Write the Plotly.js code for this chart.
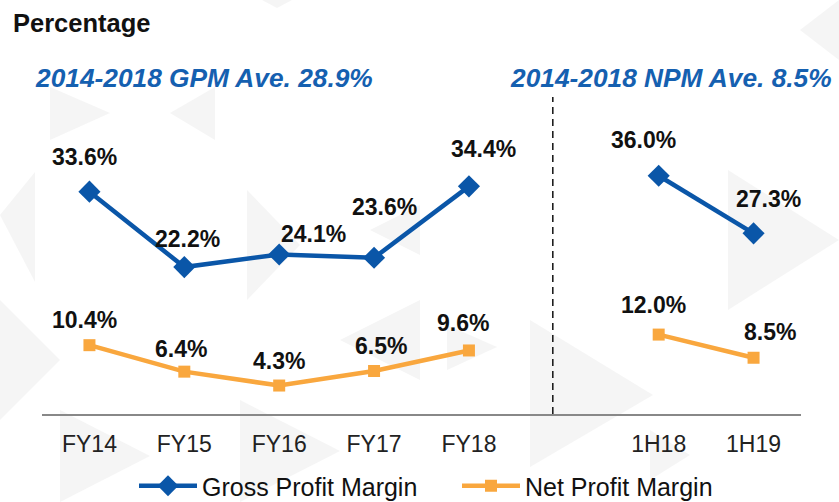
<!DOCTYPE html>
<html><head><meta charset="utf-8">
<script src="https://cdn.plot.ly/plotly-3.0.1.min.js"></script>
<style>html,body{margin:0;padding:0;background:#fff}#chart{width:839px;height:502px}</style>
</head><body><div id="chart"></div>
<script>
const categories = ['FY14','FY15','FY16','FY17','FY18','','1H18','1H19'];
const gpm = [33.6, 22.2, 24.1, 23.6, 34.4, null, 36.0, 27.3];
const npm = [10.4, 6.4, 4.3, 6.5, 9.6, null, 12.0, 8.5];
const gpmLabels = ['33.6%','22.2%','24.1%','23.6%','34.4%','','36.0%','27.3%'];
const npmLabels = ['10.4%','6.4%','4.3%','6.5%','9.6%','','12.0%','8.5%'];
const idx = categories.map((c,i)=>i);

const blue = '#0A56A8', orange = '#F9A73E';
const FONT = 'Liberation Sans, Arial, sans-serif';
const traces = [
  {x: idx, y: gpm, name: 'Gross Profit Margin', mode: 'lines+markers', connectgaps: false, legend: 'legend',
   line: {color: blue, width: 4.5}, marker: {symbol: 'diamond', size: 17, color: blue}},
  {x: idx, y: npm, name: 'Net Profit Margin', mode: 'lines+markers', connectgaps: false, legend: 'legend2',
   line: {color: orange, width: 4.5}, marker: {symbol: 'square', size: 12, color: orange}}
];

// label offsets (px) relative to the data point: style only
const gOff = [[-5,35],[3,28],[34,21],[10,51],[15,37],null,[-15,36],[15,34]];
const nOff = [[-5,25],[-3,23],[0,25],[7,25],[-6,27],null,[-5,30],[16,26]];
const ann = [];
const lblFont = {family: FONT, size: 23, color: '#111', weight: 'bold'};
idx.forEach(i => {
  if (gpm[i] !== null) ann.push({x: i, y: gpm[i], text: gpmLabels[i], showarrow: false, xshift: gOff[i][0], yshift: gOff[i][1], font: lblFont});
  if (npm[i] !== null) ann.push({x: i, y: npm[i], text: npmLabels[i], showarrow: false, xshift: nOff[i][0], yshift: nOff[i][1], font: lblFont});
});

// pixel -> paper helpers (plot area: x 42..801, y 97..414)
const PX = px => (px - 42) / 759, PY = py => (414 - py) / 317;
ann.push({xref: 'paper', yref: 'paper', x: PX(11), y: PY(23), xanchor: 'left', yanchor: 'middle', showarrow: false,
  text: 'Percentage', font: {family: FONT, size: 25.5, color: '#111', weight: 'bold'}});
ann.push({xref: 'paper', yref: 'paper', x: PX(204), y: PY(78), xanchor: 'center', yanchor: 'middle', showarrow: false,
  text: '<i>2014-2018 GPM Ave. 28.9%</i>', font: {family: FONT, size: 26.3, color: '#1560B0', weight: 'bold'}});
ann.push({xref: 'paper', yref: 'paper', x: PX(671), y: PY(78), xanchor: 'center', yanchor: 'middle', showarrow: false,
  text: '<i>2014-2018 NPM Ave. 8.5%</i>', font: {family: FONT, size: 26.3, color: '#1560B0', weight: 'bold'}});

const tri = pts => 'M' + pts.map(p => PX(p[0]) + ',' + PY(p[1])).join(' L') + ' Z';
const bgTris = [
  [[50,87],[50,140],[110,113]],
  [[215,87],[215,140],[170,113]],
  [[262,0],[292,0],[277,8]],
  [[35,172],[35,282],[0,215]],
  [[247,190],[247,300],[300,245]],
  [[420,205],[420,255],[370,230]],
  [[728,170],[728,310],[839,240]],
  [[530,320],[530,467],[653,395]],
  [[447,325],[447,370],[497,347]],
  [[0,300],[0,420],[60,360]],
  [[60,410],[60,502],[150,456]],
  [[240,400],[240,502],[340,451]],
  [[420,300],[420,380],[340,340]],
  [[650,430],[650,480],[690,455]],
  [[839,0],[839,60],[800,30]]
];
const bg = bgTris.map(p => ({type: 'path', xref: 'paper', yref: 'paper', path: tri(p), fillcolor: '#ececec', opacity: 0.55, line: {width: 0}, layer: 'below'}));

const legFont = {family: FONT, size: 25, color: '#111'};
const layout = {
  width: 839, height: 502,
  margin: {l: 42, r: 38, t: 97, b: 88, autoexpand: false},
  paper_bgcolor: '#fff', plot_bgcolor: 'rgba(0,0,0,0)',
  showlegend: true,
  legend: {orientation: 'h', x: PX(134), xanchor: 'left', y: PY(486), yanchor: 'middle', itemwidth: 58,
    font: legFont, bgcolor: 'rgba(0,0,0,0)'},
  legend2: {orientation: 'h', x: PX(457), xanchor: 'left', y: PY(486), yanchor: 'middle', itemwidth: 58,
    font: legFont, bgcolor: 'rgba(0,0,0,0)'},
  xaxis: {range: [-0.5, 7.5], tickvals: idx, ticktext: categories, showgrid: false, zeroline: false,
    showline: true, linecolor: '#888', linewidth: 2, ticks: 'outside', ticklen: 8, tickcolor: 'rgba(0,0,0,0)',
    tickfont: {family: FONT, size: 23, color: '#222'}, automargin: false},
  yaxis: {range: [0, 47.9], visible: false, showgrid: false, zeroline: false},
  shapes: bg.concat([{type: 'line', xref: 'x', yref: 'paper', x0: 4.884, x1: 4.884, y0: 0, y1: 1,
    line: {color: '#111', width: 1.5, dash: '7px,5px'}}]),
  annotations: ann
};
Plotly.newPlot('chart', traces, layout, {displayModeBar: false, staticPlot: true});
</script></body></html>
